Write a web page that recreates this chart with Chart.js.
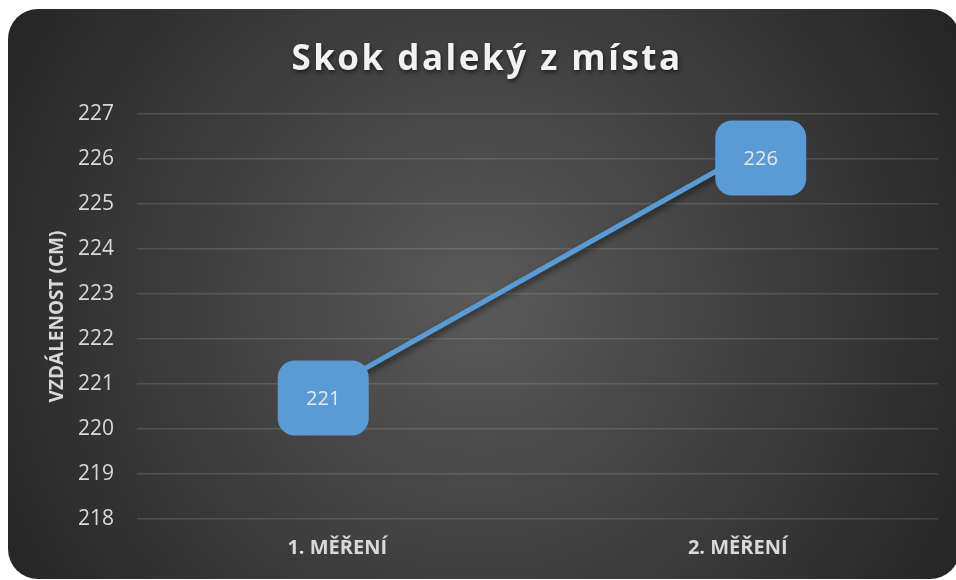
<!DOCTYPE html>
<html>
<head>
<meta charset="utf-8">
<script src="https://cdn.jsdelivr.net/npm/chart.js@4"></script>
<style>
    html, body { margin: 0; padding: 0; background: #fff; overflow: hidden; }
</style>
</head>
<body>
<canvas id="skokChart" width="956" height="580"></canvas>
<script>
const nazevGrafu = 'Skok daleký z místa';
const nazevOsyY = 'VZDÁLENOST (CM)';
const mereni = ['1. MĚŘENÍ', '2. MĚŘENÍ'];
const vzdalenost = [221, 226];
const osaYMin = 218;
const osaYMax = 227;

const fontName = '"Open Sans", "DejaVu Sans", sans-serif';

// pozadi karty s radialnim prechodem
const pozadiPlugin = {
    id: 'pozadi',
    beforeDraw(chart) {
        const ctx = chart.ctx;
        ctx.save();
        const grad = ctx.createRadialGradient(480, 300, 0, 480, 300, 580);
        grad.addColorStop(0, '#5a5a5a');
        grad.addColorStop(1, '#222222');
        ctx.fillStyle = grad;
        ctx.beginPath();
        ctx.roundRect(8, 9, 952, 570, 30);
        ctx.fill();
        ctx.restore();
    }
};

// nadpis s prolozenim pismen a stinem
const nadpisPlugin = {
    id: 'nadpis',
    afterDraw(chart) {
        const ctx = chart.ctx;
        ctx.save();
        ctx.font = 'bold 35px ' + fontName;
        ctx.letterSpacing = '2.5px';
        ctx.fillStyle = '#f2f2f2';
        ctx.textAlign = 'center';
        ctx.textBaseline = 'alphabetic';
        ctx.shadowColor = 'rgba(0,0,0,0.6)';
        ctx.shadowBlur = 4;
        ctx.shadowOffsetX = 1;
        ctx.shadowOffsetY = 2;
        ctx.fillText(nazevGrafu, 487, 70);
        ctx.restore();
    }
};

// stin pod carou
const stinPlugin = {
    id: 'stin',
    beforeDatasetDraw(chart) {
        const ctx = chart.ctx;
        ctx.save();
        ctx.shadowColor = 'rgba(0,0,0,0.55)';
        ctx.shadowBlur = 6;
        ctx.shadowOffsetX = 2;
        ctx.shadowOffsetY = 3;
    },
    afterDatasetDraw(chart) {
        chart.ctx.restore();
    }
};

// popisky hodnot v zaoblenych ramecku
const popiskyPlugin = {
    id: 'popisky',
    afterDatasetsDraw(chart, args, opts) {
        const ctx = chart.ctx;
        const meta = chart.getDatasetMeta(0);
        const data = chart.data.datasets[0].data;
        ctx.save();
        meta.data.forEach((pt, i) => {
            const off = opts.posun[i] || [0, 0];
            const cx = pt.x + off[0];
            const cy = pt.y + off[1];
            ctx.fillStyle = '#5b9bd5';
            ctx.beginPath();
            ctx.roundRect(cx - 45.5, cy - 37.5, 91, 75, 17);
            ctx.fill();
            ctx.fillStyle = '#e6e6e6';
            ctx.font = '20px ' + fontName;
            ctx.textAlign = 'center';
            ctx.textBaseline = 'middle';
            ctx.fillText(String(data[i]), cx, cy + 1);
        });
        ctx.restore();
    }
};

const ctx = document.getElementById('skokChart');
new Chart(ctx, {
    type: 'line',
    data: {
        labels: mereni,
        datasets: [{
            label: 'Vzdálenost',
            data: vzdalenost,
            borderColor: '#5b9bd5',
            borderWidth: 5,
            pointRadius: 0,
            tension: 0
        }]
    },
    options: {
        responsive: false,
        animation: false,
        layout: {
            padding: { left: 42, right: 18, top: 114, bottom: 0 }
        },
        plugins: {
            legend: { display: false },
            tooltip: { enabled: false },
            popisky: { posun: [[-14, 14], [23, -1]] }
        },
        scales: {
            x: {
                offset: true,
                grid: { display: false },
                border: { display: false },
                ticks: {
                    color: '#d9d9d9',
                    padding: 9,
                    font: { family: fontName, size: 20, weight: 'bold' }
                },
                afterFit(scale) { scale.height = 61; }
            },
            y: {
                min: osaYMin,
                max: osaYMax,
                border: { display: false },
                grid: {
                    color: 'rgba(200,200,200,0.18)',
                    lineWidth: 1.5,
                    drawTicks: false
                },
                ticks: {
                    stepSize: 1,
                    color: '#d9d9d9',
                    padding: 23,
                    font: { family: fontName, size: 21 }
                },
                title: {
                    display: true,
                    text: nazevOsyY,
                    color: '#d9d9d9',
                    font: { family: fontName, size: 19, weight: 'bold' }
                },
                afterFit(scale) { scale.width = 95; }
            }
        }
    },
    plugins: [pozadiPlugin, stinPlugin, popiskyPlugin, nadpisPlugin]
});
</script>
</body>
</html>
